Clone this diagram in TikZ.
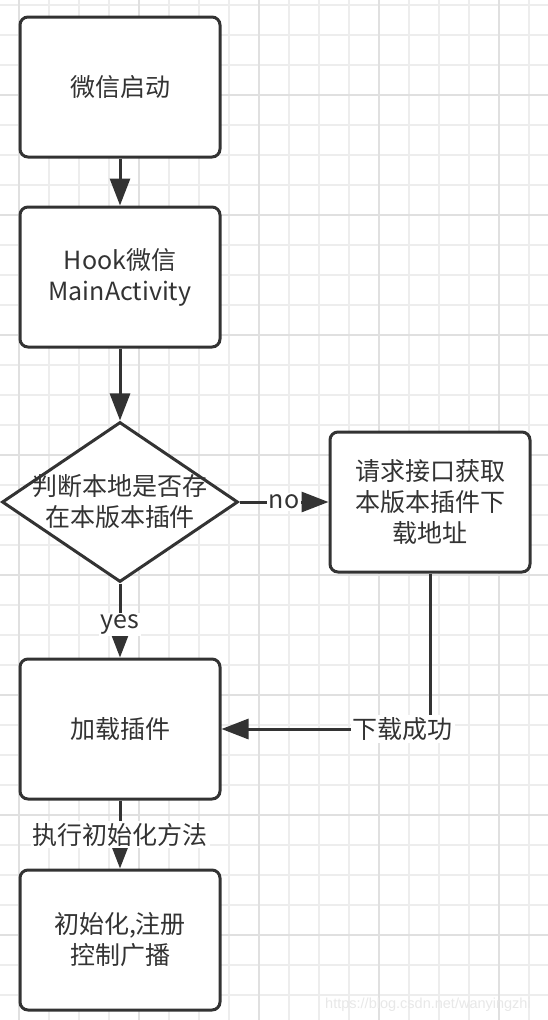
\documentclass[tikz,border=0pt]{standalone}
\usepackage{fontspec}
\setmainfont{Noto Sans CJK SC}
\newfontfamily\markfont{Liberation Sans}
\usepackage{xcolor}
\usetikzlibrary{shapes.geometric,arrows.meta,positioning}
\definecolor{linegray}{HTML}{333333}
\definecolor{gridlight}{HTML}{EDEDED}
\definecolor{griddark}{HTML}{E0E0E0}

\begin{document}
\begin{tikzpicture}[
    x=1pt, y=-1pt,
    font=\fontsize{25}{31}\selectfont,
    box/.style={rectangle, draw=linegray, line width=3pt, fill=white, rounded corners=8pt, minimum width=200pt, minimum height=140pt, align=center},
    decision/.style={diamond, draw=linegray, line width=3pt, fill=white, minimum width=236pt, minimum height=160pt, inner sep=0pt},
    flowlabel/.style={fill=white, inner sep=2pt, text=linegray},
    arrow/.style={draw=linegray, line width=3pt, -{Triangle[length=27pt,width=20pt]}}
]
    % Background grid
    \useasboundingbox (0,0) rectangle (548,1020);
    \fill [white] (0,0) rectangle (548,1020);
    \foreach \gx in {19,49,...,529} \draw [gridlight, line width=1.5pt] (\gx,0) -- (\gx,1020);
    \foreach \gy in {5,35,...,995} \draw [gridlight, line width=1.5pt] (0,\gy) -- (548,\gy);
    \foreach \gx in {19,139,...,499} \draw [griddark, line width=1.5pt] (\gx,0) -- (\gx,1020);
    \foreach \gy in {95,215,...,935} \draw [griddark, line width=1.5pt] (0,\gy) -- (548,\gy);

    % Main column
    \node (start) at (120,87) [box, text=linegray] {微信启动};
    \node (hook) at (120,277) [box, text=linegray] {Hook微信\\MainActivity};
    \node (check) at (120,502) [decision] {};
    \node (checktext) at (check) [align=center, text=linegray] {判断本地是否存\\在本版本插件};
    \node (load) at (120,729) [box, text=linegray] {加载插件};
    \node (init) at (120,940) [box, text=linegray] {初始化,注册\\控制广播};

    % Side branch
    \node (fetch) at (430,502) [box, text=linegray] {请求接口获取\\本版本插件下\\载地址};

    % Watermark
    \node (mark) at (428,1005) [font=\markfont\fontsize{14.5}{15}\selectfont, text=gray!18] {https://blog.csdn.net/wanyingzhi};

    % Connections
    \draw [arrow] (start) -- (hook);
    \draw [arrow] (hook) -- (check);
    \draw [arrow] (check) -- node[flowlabel]{no} (fetch);
    \draw [arrow] (check) -- node[flowlabel, yshift=-4pt]{yes} (load);
    \draw [arrow] (fetch) |- node[flowlabel, pos=0.565]{下载成功} (load);
    \draw [arrow] (load) -- node[flowlabel]{执行初始化方法} (init);
\end{tikzpicture}
\end{document}
